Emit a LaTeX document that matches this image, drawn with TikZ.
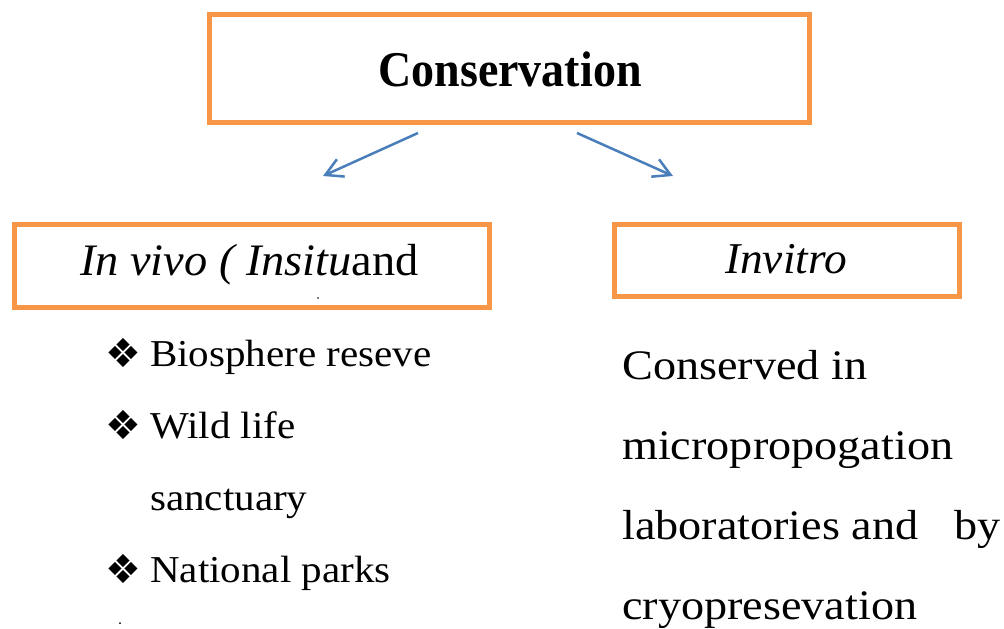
\documentclass[tikz,border=0pt]{standalone}
\usepackage{fontspec}
\setmainfont{Liberation Serif}
\newfontfamily\ftitle[FakeStretch=0.92]{Liberation Serif}
\newfontfamily\fleftbox[FakeStretch=1.03]{Liberation Serif}
\newfontfamily\fbul[FakeStretch=1.08]{Liberation Serif}
\newfontfamily\fright[FakeStretch=1.10]{Liberation Serif}
\newfontfamily\fsym{DejaVu Sans}
\usetikzlibrary{arrows.meta}
\definecolor{boxorange}{HTML}{F79646}
\definecolor{arrowblue}{HTML}{4A7EBB}
\tikzset{
  obox/.style={draw=boxorange, line width=5pt, rectangle, inner sep=0pt},
  conn/.style={draw=arrowblue, line width=2.5pt, -{Straight Barb[length=17pt,width=19pt,line width=2.5pt]}},
  txt/.style={anchor=base west, inner sep=0pt, text=black},
  ctxt/.style={anchor=base, inner sep=0pt, text=black},
  bul/.style={anchor=center, inner sep=0pt, font=\fsym\fontsize{40}{46}\selectfont},
  bultxt/.style={txt, font=\fbul\fontsize{38}{46}\selectfont},
  righttxt/.style={txt, font=\fright\fontsize{42}{50}\selectfont},
}
\begin{document}
\begin{tikzpicture}[x=1pt,y=-1pt]
\useasboundingbox (0,0) rectangle (1004,629);
% boxes
\node[obox, minimum width=600pt, minimum height=108.5pt] (top) at (509.5,68.25) {};
\node[obox, minimum width=474.5pt, minimum height=83pt] (left) at (251.75,265.5) {};
\node[obox, minimum width=345pt, minimum height=72pt] (right) at (786.5,260) {};
% box texts
\node[ctxt, font=\ftitle\bfseries\fontsize{50}{60}\selectfont] (toptext) at (510,86) {Conservation};
\node[txt, font=\fleftbox\fontsize{45}{54}\selectfont] (lefttext) at (80,275) {\itshape In vivo ( Insitu\upshape and};
\node[ctxt, font=\fleftbox\fontsize{44}{52}\selectfont] (righttext) at (786,273) {\itshape Invitro};
% arrows
\coordinate (a1s) at (418,133);
\coordinate (a1e) at (323,176);
\coordinate (a2s) at (577,133);
\coordinate (a2e) at (673,176);
\draw[conn] (a1s) -- (a1e);
\draw[conn] (a2s) -- (a2e);
% bullets
\node[bul] (b1) at (123.5,353) {❖};
\node[bultxt] (t1) at (150,366) {Biosphere reseve};
\node[bul] (b2) at (123.5,425) {❖};
\node[bultxt] (t2) at (150,438) {Wild life};
\node[bultxt] (t3) at (150,510) {sanctuary};
\node[bul] (b3) at (123.5,569) {❖};
\node[bultxt] (t4) at (150,582) {National parks};
% right text
\node[righttxt] (r1) at (622,379) {Conserved in};
\node[righttxt] (r2) at (622,459) {micropropogation};
\node[righttxt] (r3) at (622,539) {laboratories and\hspace{36pt}by};
\node[righttxt] (r4) at (622,619) {cryopresevation};
% stray dots
\fill[black] (318,298) circle (0.8);
\fill[black] (120,623) circle (1);
\end{tikzpicture}
\end{document}
